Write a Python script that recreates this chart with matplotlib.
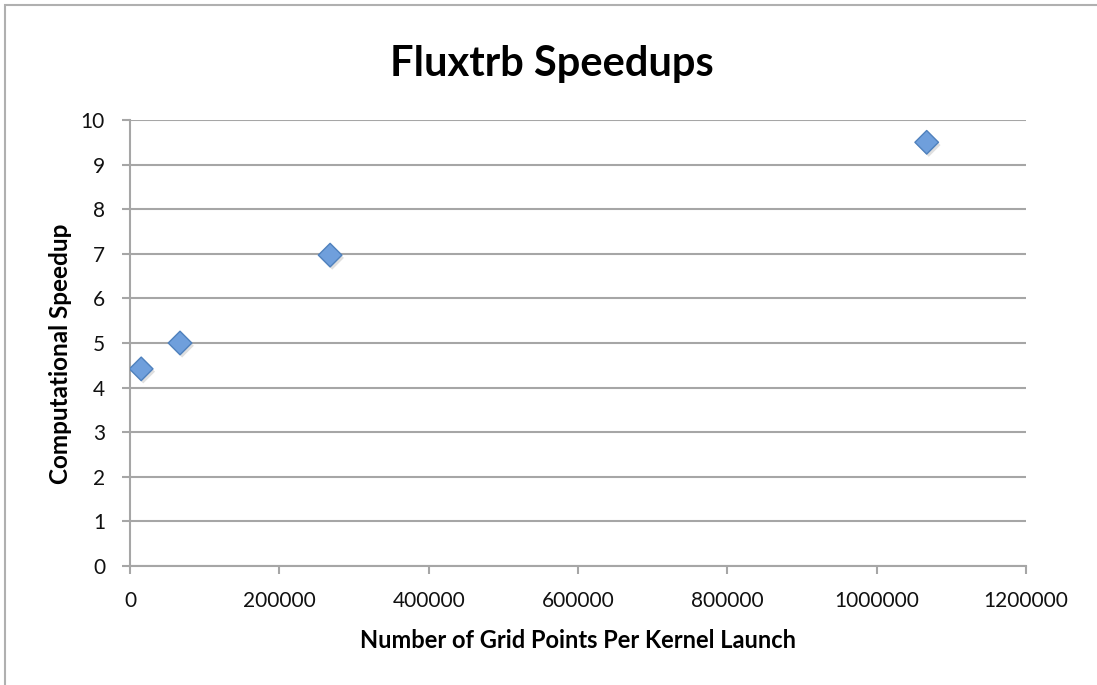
import matplotlib
matplotlib.use('Agg')

import matplotlib.pyplot as plt
import matplotlib.patheffects as pe
from matplotlib.patches import Rectangle

# data
grid_points = [15000, 67000, 268000, 1067000]
speedup = [4.42, 5.0, 6.97, 9.5]

x_ticks = [0, 200000, 400000, 600000, 800000, 1000000, 1200000]
y_ticks = list(range(0, 11))

title = "Fluxtrb Speedups"
x_label = "Number of Grid Points Per Kernel Launch"
y_label = "Computational Speedup"

GRID_COLOR = '#a6a6a6'
FONT = ['Lato', 'DejaVu Sans']

fig = plt.figure(figsize=(10.97, 6.85), dpi=100)
ax = fig.add_axes([130 / 1097, 119 / 685, 896 / 1097, 446 / 685])

# chart frame like the spreadsheet export (only top and left edges show)
fig.patches.append(Rectangle((5 / 1097, -0.05), 1.2, (680 / 685) + 0.05,
                             transform=fig.transFigure, fill=False,
                             edgecolor='#b0b0b0', linewidth=1.5))

ax.scatter(grid_points, speedup, marker='D', s=12 ** 2,
           facecolor='#6f9fdc', edgecolor='#4f81bd', linewidth=1.0, zorder=3,
           path_effects=[pe.SimplePatchShadow(offset=(1.5, -2), alpha=0.25,
                                              shadow_rgbFace='#808080'),
                         pe.Normal()])

ax.set_xlim(0, 1200000)
ax.set_ylim(0, 10)
ax.set_xticks(x_ticks)
ax.set_yticks(y_ticks)
ax.set_xticklabels([str(v) for v in x_ticks])
ax.grid(axis='y', color=GRID_COLOR, linewidth=1.5)
ax.set_axisbelow(True)

for side in ['top', 'right']:
    ax.spines[side].set_visible(False)
for side in ['left', 'bottom']:
    ax.spines[side].set_color(GRID_COLOR)
    ax.spines[side].set_linewidth(1.5)

ax.tick_params(axis='both', colors=GRID_COLOR, length=6, width=1.5,
               labelcolor='#111111', labelsize=15)
ax.tick_params(axis='x', pad=12)
ax.tick_params(axis='y', pad=12)
for lbl in ax.get_xticklabels() + ax.get_yticklabels():
    lbl.set_family(FONT)

# title is centred on the whole chart, not on the plot area
ax.set_title(title, fontsize=30, fontweight='bold', family=FONT, pad=32,
             x=0.471)
ax.set_xlabel(x_label, fontsize=17, fontweight='bold', family=FONT,
              labelpad=13)
ax.set_ylabel(y_label, fontsize=17.5, fontweight='bold', family=FONT)
ax.yaxis.set_label_coords(-58 / 896, 0.475)

fig.savefig('out.png', dpi=100)
plt.close(fig)
